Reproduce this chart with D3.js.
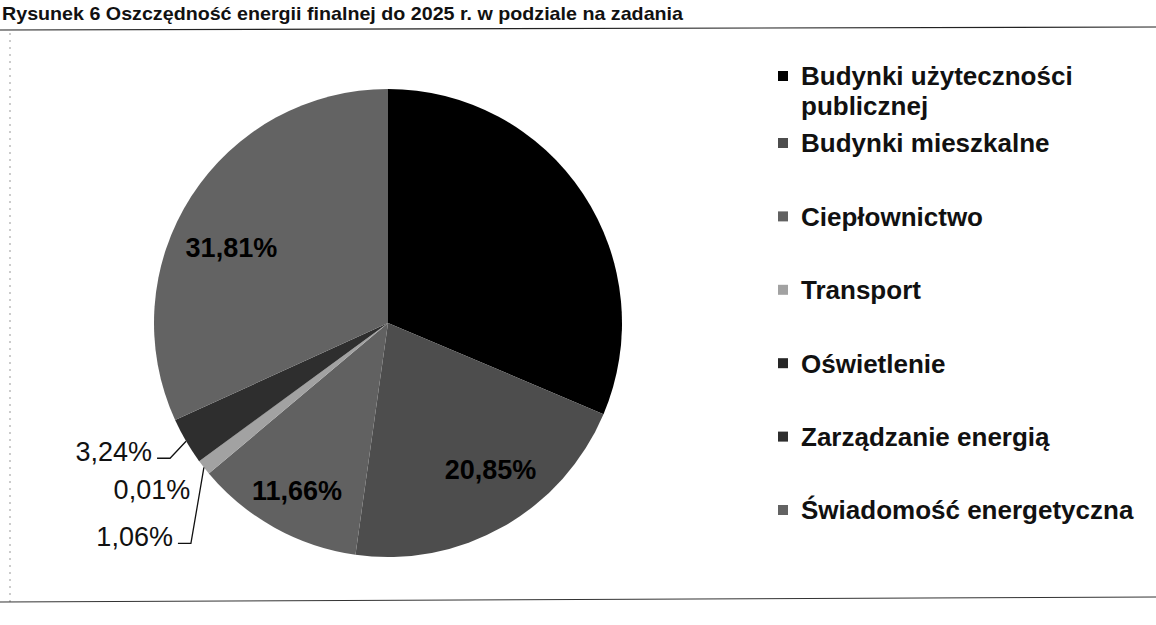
<!DOCTYPE html>
<html>
<head>
<meta charset="utf-8">
<script src="https://cdn.jsdelivr.net/npm/d3@7"></script>
<style>
  body { margin: 0; background: #fff; }
  svg { display: block; font-family: "Liberation Sans", Arial, sans-serif; }
</style>
</head>
<body>
<div id="chart"></div>
<script>
      // data
      var categories = ["Budynki użyteczności publicznej", "Budynki mieszkalne", "Ciepłownictwo",
                        "Transport", "Oświetlenie", "Zarządzanie energią", "Świadomość energetyczna"];
      var shares = [31.37, 20.85, 11.66, 1.06, 0.01, 3.24, 31.81];   // percent
      var legendLines = [["Budynki użyteczności", "publicznej"], ["Budynki mieszkalne"], ["Ciepłownictwo"],
                         ["Transport"], ["Oświetlenie"], ["Zarządzanie energią"], ["Świadomość energetyczna"]];
      var title = "Rysunek 6 Oszczędność energii finalnej do 2025 r. w podziale na zadania";

      // styles
      var colors = ["#000000", "#4d4d4d", "#616161", "#a2a2a2", "#262626", "#2e2e2e", "#636363"];
      // label placement: "in" = inside slice, "out" = outside with offset from slice edge, null = none
      var labelMode = [null, "in", "in", "out", "out", "out", "in"];
      var inNudge = {1: [16, -6], 2: [-6, 14], 6: [-9, 19]};
      var outOffset = {3: [-31, 69, true], 4: [-9, 28, false], 5: [-34, 10, true]};

      var width = 1156, height = 625;
      var cx = 388, cy = 323, radius = 234;

      var svg = d3.select("#chart").append("svg")
          .attr("width", width)
          .attr("height", height);

      // frame of the scanned page
      svg.append("line")
          .attr("x1", 0).attr("y1", 30).attr("x2", width).attr("y2", 27)
          .attr("stroke", "#222").attr("stroke-width", 1.2);
      svg.append("line")
          .attr("x1", 10).attr("y1", 33).attr("x2", 10).attr("y2", 604)
          .attr("stroke", "#999").attr("stroke-width", 1).attr("stroke-dasharray", "2,5");
      svg.append("line")
          .attr("x1", 0).attr("y1", 602).attr("x2", width).attr("y2", 597)
          .attr("stroke", "#333").attr("stroke-width", 1);

      // title
      svg.append("text")
          .attr("x", 2)
          .attr("y", 20)
          .attr("font-size", 19)
          .attr("font-weight", "bold")
          .attr("textLength", 681)
          .attr("lengthAdjust", "spacingAndGlyphs")
          .attr("fill", "#111")
          .text(title);

      var data = categories.map(function(c, i) {
          return {name: c, value: shares[i], idx: i};
      });

      var pie = d3.pie().sort(null).value(function(d) { return d.value; });
      var arcs = pie(data);

      var arc = d3.arc().innerRadius(0).outerRadius(radius);
      var labelArc = d3.arc().innerRadius(radius * 0.5).outerRadius(radius);
      var edgeArc = d3.arc().innerRadius(radius).outerRadius(radius);

      var g = svg.append("g")
          .attr("transform", "translate(" + cx + "," + cy + ")");

      g.selectAll("path.slice")
          .data(arcs)
          .enter()
          .append("path")
          .attr("class", "slice")
          .attr("d", arc)
          .attr("fill", function(d) { return colors[d.data.idx]; });

      var fmt = function(v) { return d3.format(".2f")(v).replace(".", ",") + "%"; };

      // inside labels
      g.selectAll("text.inlabel")
          .data(arcs.filter(function(d) { return labelMode[d.data.idx] === "in"; }))
          .enter()
          .append("text")
          .attr("class", "inlabel")
          .attr("transform", function(d) {
              var c = labelArc.centroid(d), n = inNudge[d.data.idx];
              return "translate(" + (c[0] + n[0]) + "," + (c[1] + n[1]) + ")";
          })
          .attr("dy", "0.36em")
          .attr("text-anchor", "middle")
          .attr("font-size", 27)
          .attr("font-weight", "bold")
          .attr("fill", "#000")
          .text(function(d) { return fmt(d.data.value); });

      // outside labels with leader lines
      var outs = arcs.filter(function(d) { return labelMode[d.data.idx] === "out"; });
      outs.forEach(function(d) {
          var e = edgeArc.centroid(d);
          var off = outOffset[d.data.idx];
          var lx = e[0] + off[0], ly = e[1] + off[1];
          g.append("text")
              .attr("x", lx)
              .attr("y", ly)
              .attr("dy", "0.36em")
              .attr("text-anchor", "end")
              .attr("font-size", 27)
              .attr("fill", "#111")
              .text(fmt(d.data.value));
          if (off[2]) {
              g.append("path")
                  .attr("d", d3.line()([[lx + 5, ly + 7], [lx + 18, ly + 7], e]))
                  .attr("fill", "none")
                  .attr("stroke", "#111")
                  .attr("stroke-width", 1.3);
          }
      });

      // legend
      var legendY = d3.scaleLinear().domain([1, 6]).range([143, 510]);
      var legend = svg.append("g").attr("class", "legend");
      data.forEach(function(d, i) {
          var y = i === 0 ? legendY(1) - 67 : legendY(i);
          legend.append("rect")
              .attr("x", 778)
              .attr("y", y - 5)
              .attr("width", 10)
              .attr("height", 10)
              .attr("fill", colors[i]);
          var t = legend.append("text")
              .attr("x", 801)
              .attr("y", y)
              .attr("font-size", 26)
              .attr("font-weight", "bold")
              .attr("fill", "#111");
          legendLines[i].forEach(function(line, k) {
              t.append("tspan")
                  .attr("x", 801)
                  .attr("y", y + k * 30)
                  .attr("dy", "0.36em")
                  .text(line);
          });
      });
</script>
</body>
</html>
